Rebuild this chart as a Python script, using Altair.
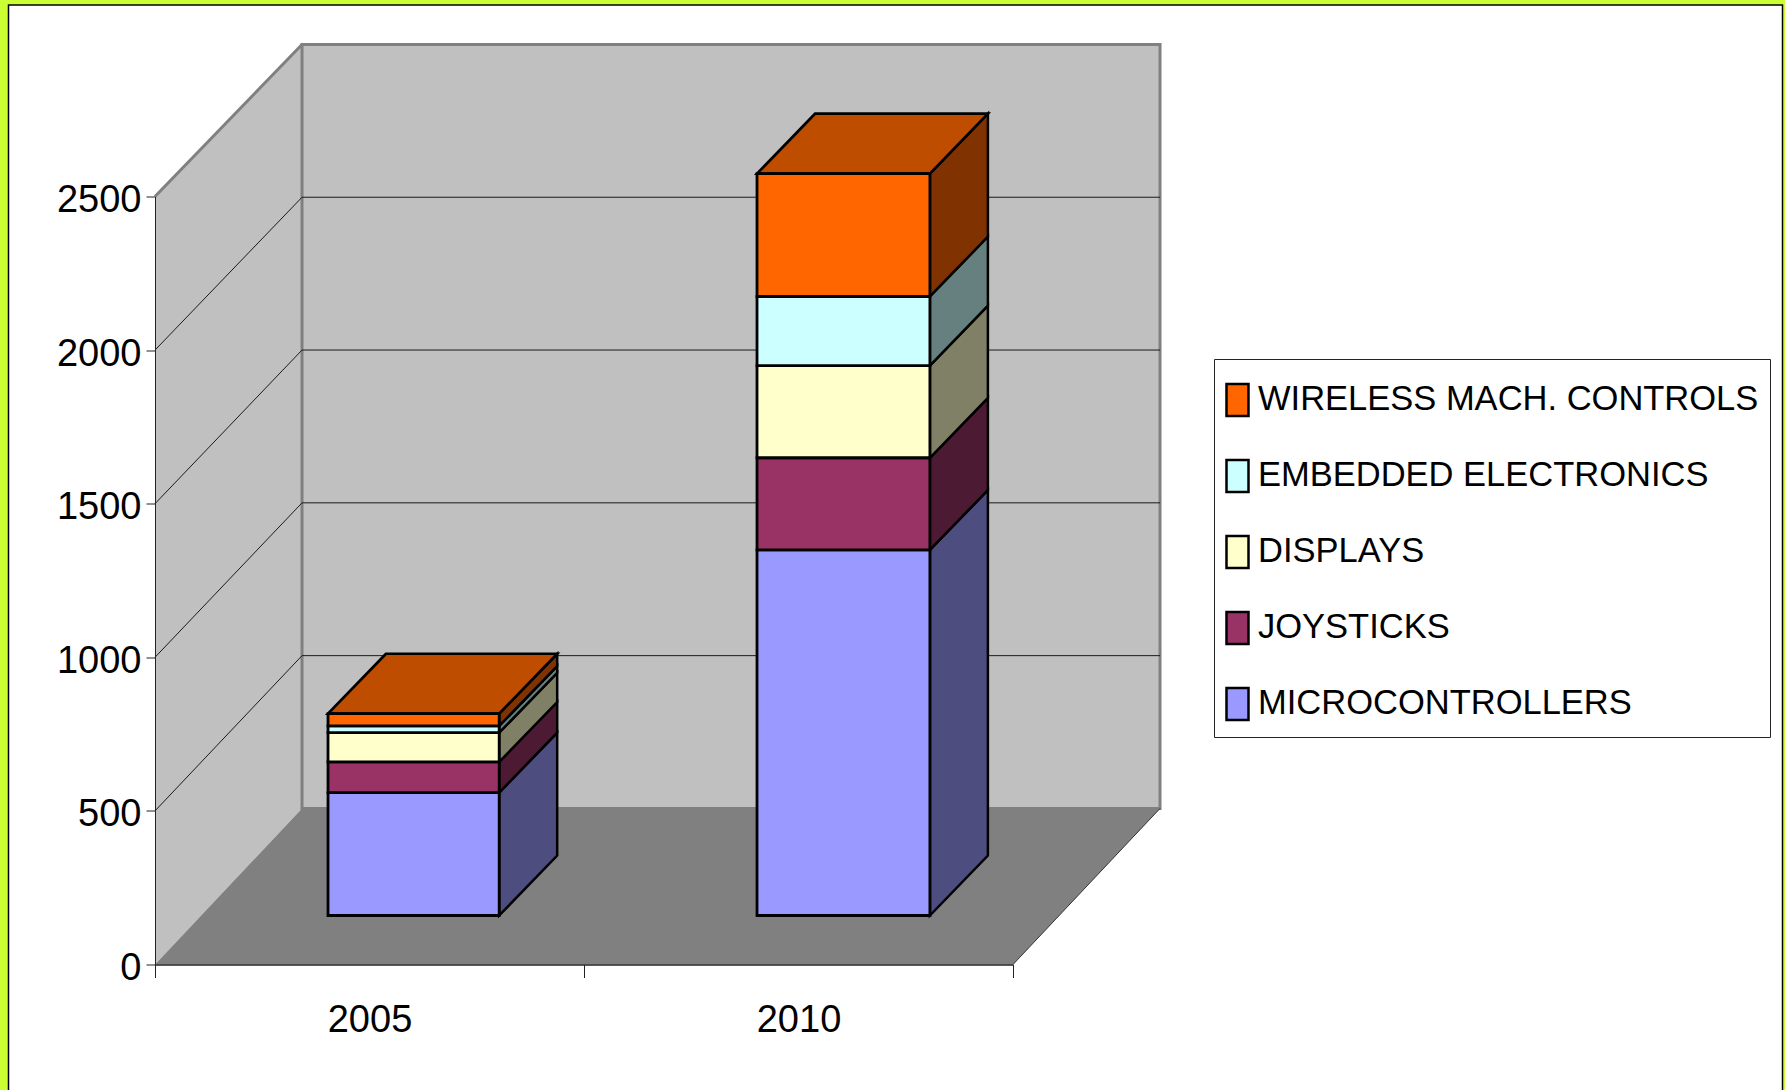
import altair as alt
import pandas as pd

YEARS = ["2005", "2010"]
SERIES = ["MICROCONTROLLERS", "JOYSTICKS", "DISPLAYS", "EMBEDDED ELECTRONICS", "WIRELESS MACH. CONTROLS"]
VALUES_2005 = [400, 100, 95, 22, 40]
VALUES_2010 = [1190, 300, 300, 225, 400]
FRONT = ["#9999FF", "#993366", "#FFFFCC", "#CCFFFF", "#FF6600"]
SIDE = ["#4D4D80", "#4D1A33", "#808066", "#668080", "#803300"]
TOP_FACE = "#BF4D00"
TICKS = [0, 500, 1000, 1500, 2000, 2500]

FONT = "Liberation Sans"
W, H = 858, 768
X_SCALE = alt.Scale(domain=[0, 2], nice=False, zero=False)
Y_SCALE = alt.Scale(domain=[0, 2500], nice=False, zero=False)

# pseudo 3D geometry, in data units
WALL_DX, WALL_DY, BACK = 0.3427, 508, 0.9948
BAR_LEFT, BAR_DX, BAR_DY, LIFT = 0.4033, 0.1352, 195, 159.5
BAR_WIDTHS = [0.399, 0.403]

X_AXIS = alt.Axis(
    values=[0, 0.5, 1, 1.5, 2], title=None, grid=False, zindex=1,
    labelExpr=f"datum.value==0.5?'{YEARS[0]}':datum.value==1.5?'{YEARS[1]}':''",
    labelFont=FONT, labelFontSize=38, labelColor="black", labelPadding=24,
    labelOverlap=False, labelFlush=False, labelAngle=0,
    tickSize=13, tickColor="#222222", tickWidth=1,
    tickOpacity={"condition": {"test": "datum.value==0.5||datum.value==1.5", "value": 0}, "value": 1},
    domainColor="#222222", domainWidth=1.5,
)
Y_AXIS = alt.Axis(
    values=TICKS, title=None, grid=False, zindex=1, format="d",
    labelFont=FONT, labelFontSize=38, labelColor="black", labelPadding=5, labelOffset=4,
    labelOverlap=False, labelFlush=False,
    tickSize=9, tickColor="#222222", tickWidth=1,
    domainColor="#222222", domainWidth=1,
)


def xe(f="x"):
    return alt.X(f"{f}:Q", scale=X_SCALE, axis=X_AXIS)


def ye(f="y"):
    return alt.Y(f"{f}:Q", scale=Y_SCALE, axis=Y_AXIS)


def back_y(v):
    return WALL_DY + v * BACK


# page
page = alt.Chart(pd.DataFrame({"a": [0]})).mark_rect(
    fill="white", stroke="black", strokeWidth=1.5
).encode(x=alt.value(-146.5), x2=alt.value(1627.5), y=alt.value(-191.5), y2=alt.value(910))

# walls
left_wall = alt.Chart(pd.DataFrame({
    "x": [0, WALL_DX], "y": [0, WALL_DY], "y2": [2500, back_y(2500)]
})).mark_area(fill="#C0C0C0", orient="vertical").encode(
    x=xe(), y=ye(), y2="y2:Q",
)
back_wall = alt.Chart(pd.DataFrame({
    "x": [WALL_DX], "x2": [2 + WALL_DX], "y": [WALL_DY], "y2": [back_y(2500)]
})).mark_rect(fill="#C0C0C0", stroke="#808080", strokeWidth=3).encode(
    x=xe(), x2="x2:Q", y=ye(), y2="y2:Q"
)
floor = alt.Chart(pd.DataFrame({
    "y": [0, WALL_DY], "x": [0, WALL_DX], "x2": [2, 2 + WALL_DX]
})).mark_area(fill="#808080", orient="horizontal").encode(
    x=xe(), x2="x2:Q", y=ye()
)
grid_df = pd.DataFrame(
    [{"x": WALL_DX, "x2": 2 + WALL_DX, "y": back_y(v), "y2": back_y(v)} for v in TICKS[1:-1]]
    + [{"x": 0, "x2": WALL_DX, "y": v, "y2": back_y(v)} for v in TICKS[1:-1]]
)
grid = alt.Chart(grid_df).mark_rule(color="#1A1A1A", strokeWidth=1).encode(
    x=xe(), x2="x2:Q", y=ye(), y2="y2:Q"
)
edge_top = alt.Chart(pd.DataFrame({
    "x": [0], "x2": [WALL_DX], "y": [2500], "y2": [back_y(2500)]
})).mark_rule(color="#808080", strokeWidth=3).encode(x=xe(), x2="x2:Q", y=ye(), y2="y2:Q")
edge_right = alt.Chart(pd.DataFrame({
    "x": [2], "x2": [2 + WALL_DX], "y": [0], "y2": [WALL_DY]
})).mark_rule(color="#333333", strokeWidth=1).encode(x=xe(), x2="x2:Q", y=ye(), y2="y2:Q")

# bars
front_rows, side_rows, top_rows = [], [], []
for i, vals in enumerate([VALUES_2005, VALUES_2010]):
    left = i + BAR_LEFT
    right = left + BAR_WIDTHS[i]
    lo = LIFT
    for j, v in enumerate(vals):
        hi = lo + v
        front_rows.append({"series": SERIES[j], "x": left, "x2": right, "y": lo, "y2": hi})
        key = f"{i}-{j}"
        side_rows.append({"k": key, "o": j, "fill": SIDE[j], "x": right, "y": lo, "y2": hi})
        side_rows.append({"k": key, "o": j, "fill": SIDE[j], "x": right + BAR_DX, "y": lo + BAR_DY, "y2": hi + BAR_DY})
        lo = hi
    top_rows.append({"k": i, "y": lo, "x": left, "x2": right})
    top_rows.append({"k": i, "y": lo + BAR_DY, "x": left + BAR_DX, "x2": right + BAR_DX})

sides = alt.Chart(pd.DataFrame(side_rows)).mark_area(
    orient="vertical", stroke="black", strokeWidth=2.5
).encode(
    x=xe(), y=ye(), y2="y2:Q",
    fill=alt.Fill("fill:N", scale=None),
    detail="k:N",
)
tops = alt.Chart(pd.DataFrame(top_rows)).mark_area(
    orient="horizontal", stroke="black", strokeWidth=2.7, fill=TOP_FACE
).encode(x=xe(), x2="x2:Q", y=ye(), detail="k:N")

fronts = alt.Chart(pd.DataFrame(front_rows)).mark_rect(
    stroke="black", strokeWidth=2.8
).encode(
    x=xe(), x2="x2:Q", y=ye(), y2="y2:Q",
    fill=alt.Fill(
        "series:N",
        scale=alt.Scale(domain=SERIES[::-1], range=FRONT[::-1]),
        legend=alt.Legend(
            title=None, orient="none", legendX=1059, legendY=162.5,
            fillColor="white", strokeColor="#222222", padding=11.5,
            symbolType="M-0.393,-0.571H0.393V0.571H-0.393Z", symbolSize=3136,
            symbolOffset={"expr": "-17.5"},
            symbolStrokeColor="black", symbolStrokeWidth=2.5, symbolOpacity=1,
            labelFont=FONT, labelFontSize=34.5, labelColor="black",
            labelLimit=700, labelOffset={"expr": "-9"}, rowPadding=25,
        ),
    ),
)

chart = alt.layer(
    page, left_wall, back_wall, floor, grid, edge_top, edge_right, sides, tops, fronts
).properties(
    width=W, height=H, background="#CCFF33",
    padding={"left": 155, "top": 196.5, "right": 772, "bottom": 125.5},
    autosize=alt.AutoSizeParams(type="none"),
).configure_view(stroke=None)

chart.save("out.html", embed_options={
    "renderer": "svg", "actions": False,
    "defaultStyle": "html,body{margin:0;padding:0;overflow:hidden;background:#CCFF33}",
})
